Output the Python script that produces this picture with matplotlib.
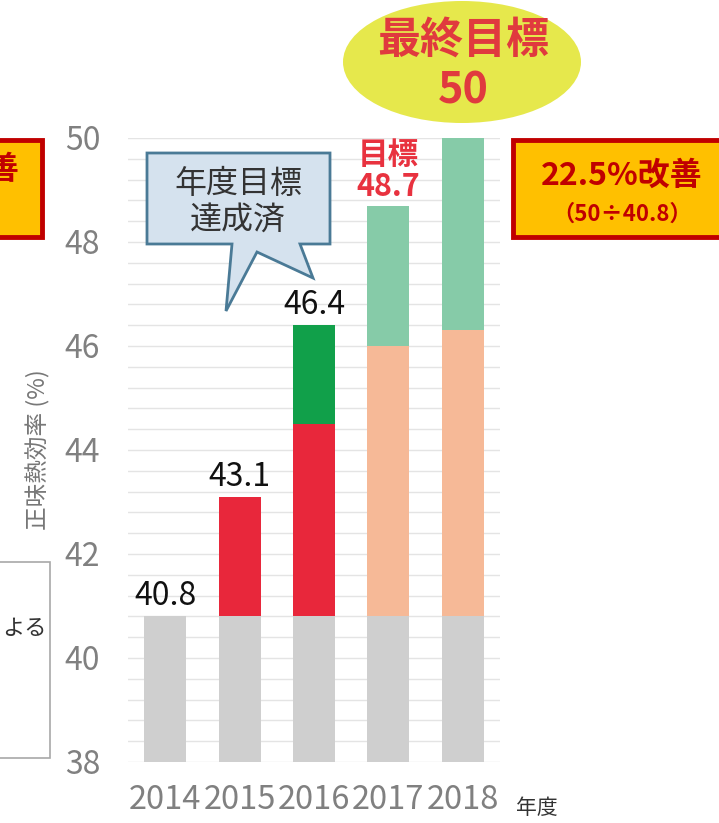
import numpy as np
import matplotlib.pyplot as plt
from matplotlib.patches import Ellipse, Rectangle, Polygon

plt.rcParams['font.family'] = ['Noto Sans CJK JP', 'DejaVu Sans']

# Net thermal efficiency by fiscal year
years = ['2014', '2015', '2016', '2017', '2018']
base_top = [40.8, 40.8, 40.8, 40.8, 40.8]
gain_top = [40.8, 43.1, 44.5, 40.8, 40.8]      # improvement achieved
extra_top = [40.8, 43.1, 46.4, 40.8, 40.8]     # beyond yearly target
plan_top = [40.8, 40.8, 40.8, 46.0, 46.3]      # planned improvement
target_top = [40.8, 40.8, 40.8, 48.7, 50.0]    # target
value_labels = [40.8, 43.1, 46.4]
final_target = 50
improve_text = '22.5%改善'
improve_note = '（50÷40.8）'

W, H = 719, 823
fig = plt.figure(figsize=(W / 100, H / 100), dpi=100)


def px(x, y):
    return x / W, 1 - y / H


ax = fig.add_axes([128 / W, (H - 762) / H, 372 / W, 624 / H])
x = np.arange(len(years))
bw = 0.565
b0 = np.full(len(years), 38.0)
segs = [
    (b0, np.array(base_top), '#CFCFCF'),
    (np.array(base_top), np.array(gain_top), '#E8273B'),
    (np.array(gain_top), np.array(extra_top), '#11A04A'),
    (np.array(base_top), np.array(plan_top), '#F6B997'),
    (np.array(plan_top), np.array(target_top), '#86CBA8'),
]
for bot, top, col in segs:
    ax.bar(x, top - bot, bottom=bot, width=bw, color=col, zorder=3)

ax.set_ylim(38, 50)
ax.set_xlim(-0.5, 4.5)
ax.set_yticks(np.arange(38, 50.1, 0.4), minor=True)
ax.set_yticks(np.arange(38, 51, 2))
ax.grid(axis='y', which='both', color='#E4E4E4', lw=1, zorder=0)
ax.tick_params(axis='both', which='both', length=0)
ax.tick_params(axis='y', pad=20, labelsize=23, labelcolor='#808080')
ax.tick_params(axis='x', pad=16, labelsize=23.5, labelcolor='#808080')
ax.set_xticks(x)
ax.set_xticklabels(years)
for s in ax.spines.values():
    s.set_visible(False)

for i, v in enumerate(value_labels):
    ax.annotate(f'{v:.1f}', (x[i], extra_top[i]), xytext=(0, 3),
                textcoords='offset points', ha='center', va='bottom',
                fontsize=23, color='#111111')
ax.annotate(f'目標\n{target_top[3]:.1f}', (x[3], target_top[3]), xytext=(0, 2),
            textcoords='offset points', ha='center', va='bottom',
            fontsize=22, color='#E8323F', fontweight='bold', linespacing=1.0)

fig.text(*px(38, 450), '正味熱効率 (%)', rotation=90, ha='center', va='center',
         fontsize=17, color='#777777')
fig.text(*px(537, 808), '年度', ha='center', va='center', fontsize=15,
         color='#333333')

# final target ellipse
el = Ellipse(px(462, 62), 238 / W, 122 / H, transform=fig.transFigure,
             facecolor='#E6E84C', edgecolor='none')
fig.patches.append(el)
fig.text(*px(463, 40), '最終目標', ha='center', va='center', fontsize=31,
         fontweight='bold', color='#E03A3E')
fig.text(*px(463, 91), str(final_target), ha='center', va='center', fontsize=31,
         fontweight='bold', color='#E03A3E')

# improvement boxes
for x0, x1 in [(513, 760), (-200, 42)]:
    r = Rectangle(px(x0, 237), (x1 - x0) / W, 97 / H, transform=fig.transFigure,
                  facecolor='#FFC000', edgecolor='#C00000', lw=3.5)
    fig.patches.append(r)
fig.text(*px(622, 176), improve_text, ha='center', va='center', fontsize=23,
         fontweight='bold', color='#C00000')
fig.text(*px(622, 214), improve_note, ha='center', va='center', fontsize=16,
         fontweight='bold', color='#C00000')
fig.text(*px(19, 170), '改善', ha='right', va='center', fontsize=23,
         fontweight='bold', color='#C00000')

# note box on the left
r = Rectangle(px(-200, 758), 250 / W, 196 / H, transform=fig.transFigure,
              facecolor='white', edgecolor='#A8A8A8', lw=1.2)
fig.patches.append(r)
fig.text(*px(47, 628), 'よる', ha='right', va='center', fontsize=16,
         color='#333333')

# speech bubble
pts = [(147, 153), (330, 153), (330, 244), (300, 244), (313, 278), (257, 252),
       (226, 311), (232, 244), (147, 244)]
bubble = Polygon([px(a, b) for a, b in pts], closed=True,
                 transform=fig.transFigure, facecolor='#D5E2EE',
                 edgecolor='#4A7A96', lw=2)
fig.patches.append(bubble)
fig.text(*px(238, 184), '年度目標', ha='center', va='center', fontsize=23,
         color='#333333')
fig.text(*px(238, 220), '達成済', ha='center', va='center', fontsize=23,
         color='#333333')

fig.savefig('out.png', dpi=100)
